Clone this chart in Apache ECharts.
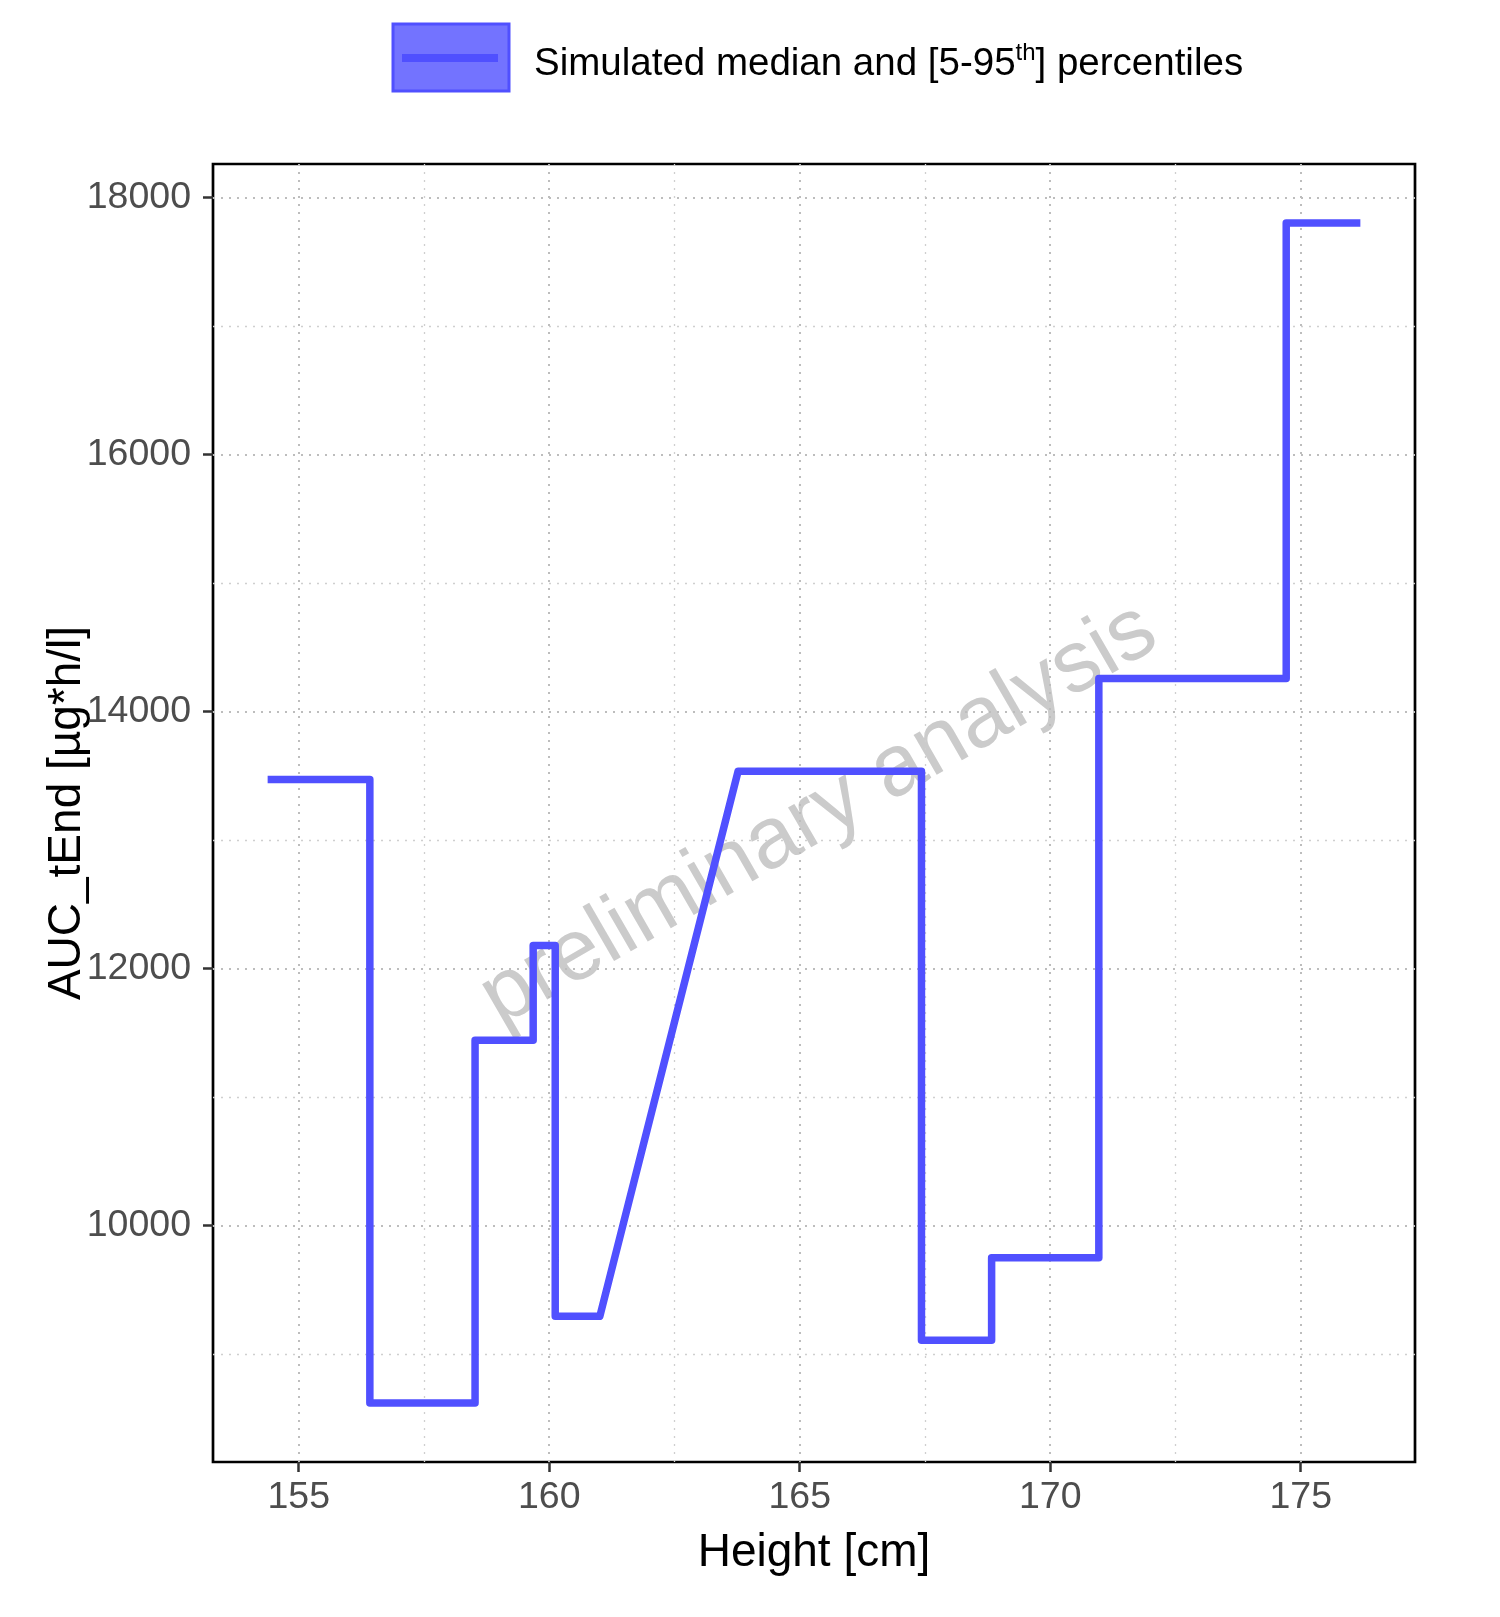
<!DOCTYPE html>
<html><head><meta charset="utf-8">
<script src="https://cdn.jsdelivr.net/npm/echarts@6/dist/echarts.min.js"></script>
<style>html,body{margin:0;padding:0;background:#fff}#c{width:1500px;height:1617px}</style>
</head><body><div id="c"></div>
<script>
// ---- data ----
const heights   = [154.38,156.42,156.42,158.52,158.52,159.68,159.68,160.12,160.12,161.01,163.77,167.43,167.43,168.83,168.83,170.97,170.97,174.71,174.71,176.19];
const aucMedian = [13471,13471,8621,8621,11443,11443,12180,12180,9295,9295,13535,13535,9110,9110,9751,9751,14257,14257,17800,17800];
const xTicks = [155,160,165,170,175];
const xMinor = [157.5,162.5,167.5,172.5];
const yTicks = [10000,12000,14000,16000,18000];
const yMinor = [9000,11000,13000,15000,17000];
const xTitle = 'Height [cm]';
const yTitle = 'AUC_tEnd [µg*h/l]';
const watermark = 'preliminary analysis';

// ggplot-like 5% expansion
function expand(arr){const mn=Math.min(...arr),mx=Math.max(...arr),r=mx-mn;return [mn-0.05*r,mx+0.05*r];}
const xr = expand(heights), yr = expand(aucMedian);

const FONT = 'Liberation Sans, Arial, sans-serif';
const LINE = '#5050ff';
const majorStyle = {color:'#bdbdbd', width:2, type:[2,6]};
const minorStyle = {color:'#cfcfcf', width:1.3, type:[2,6]};

const gridLines = []
  .concat(xMinor.map(v=>({xAxis:v, lineStyle:minorStyle})))
  .concat(yMinor.map(v=>({yAxis:v, lineStyle:minorStyle})))
  .concat(xTicks.map(v=>({xAxis:v, lineStyle:majorStyle})))
  .concat(yTicks.map(v=>({yAxis:v, lineStyle:majorStyle})));

const pts = heights.map((h,i)=>[h, aucMedian[i]]);

const chart = echarts.init(document.getElementById('c'), null, {renderer:'canvas'});
chart.setOption({
  animation:false,
  backgroundColor:'#fff',
  grid:{left:213, right:85, top:164, bottom:155, show:true, borderColor:'#000', borderWidth:2.7, backgroundColor:'transparent', containLabel:false, outerBoundsMode:'none'},
  xAxis:{
    type:'value', min:xr[0], max:xr[1],
    axisLine:{show:false},
    splitLine:{show:false},
    axisTick:{show:true, inside:false, length:10, lineStyle:{color:'#333', width:2.5}, customValues:xTicks},
    axisLabel:{color:'#4d4d4d', fontSize:37.5, fontFamily:FONT, margin:17, customValues:xTicks, formatter:v=>String(v)},
    name:xTitle, nameLocation:'middle', nameGap:68, nameMoveOverlap:false,
    nameTextStyle:{color:'#000', fontSize:46, fontFamily:FONT}
  },
  yAxis:{
    type:'value', min:yr[0], max:yr[1],
    axisLine:{show:false},
    splitLine:{show:false},
    axisTick:{show:true, inside:false, length:10, lineStyle:{color:'#333', width:2.5}, customValues:yTicks},
    axisLabel:{color:'#4d4d4d', fontSize:37.5, fontFamily:FONT, margin:22, customValues:yTicks, formatter:v=>String(v)},
    name:yTitle, nameLocation:'middle', nameGap:123, nameRotate:90, nameMoveOverlap:false,
    nameTextStyle:{color:'#000', fontSize:46, fontFamily:FONT}
  },
  graphic:[
    {type:'text', z:1, x:819, y:815, rotation:Math.PI/6, style:{text:watermark, fill:'#cbcbcb', font:'87px '+FONT, align:'center', verticalAlign:'middle'}},
    {type:'rect', z:10, shape:{x:393, y:24, width:116, height:67}, style:{fill:'#7373ff', stroke:LINE, lineWidth:3}},
    {type:'line', z:11, shape:{x1:402, y1:58, x2:498, y2:58}, style:{stroke:LINE, lineWidth:8}},
    {type:'text', z:10, x:534, y:64, style:{text:'{a|Simulated median and [5-95}{s|th}{a|] percentiles}', verticalAlign:'middle', align:'left',
      rich:{a:{fontSize:38.5, fontFamily:FONT, fill:'#000', lineHeight:46}, s:{fontSize:24, fontFamily:FONT, fill:'#000', verticalAlign:'top', lineHeight:29}}}}
  ],
  series:[
    {type:'line', z:0, data:pts, showSymbol:false, symbol:'none', silent:true, lineStyle:{opacity:0, width:0},
     markLine:{silent:true, symbol:'none', label:{show:false}, animation:false, data:gridLines}},
    {type:'line', zlevel:1, z:5, data:pts, showSymbol:false, symbol:'none', silent:true,
     lineStyle:{color:LINE, width:7.5, join:'round', cap:'butt'}}
  ]
});
</script></body></html>
